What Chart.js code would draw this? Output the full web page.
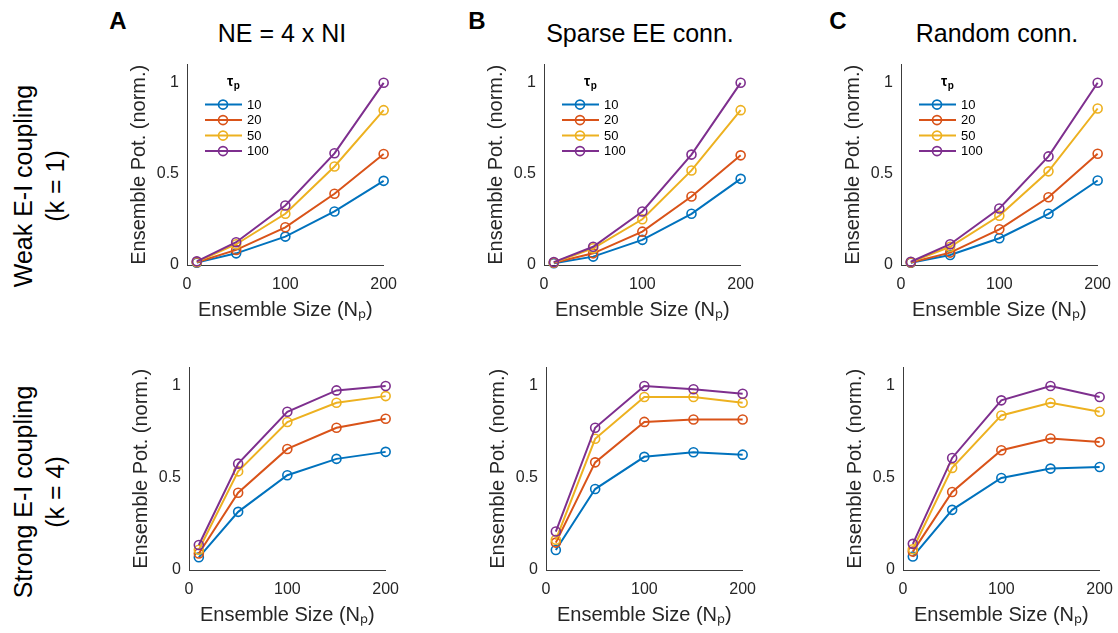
<!DOCTYPE html>
<html><head><meta charset="utf-8">
<script src="https://cdn.jsdelivr.net/npm/chart.js@4.4.1/dist/chart.umd.min.js"></script>
<style>
html,body{margin:0;padding:0;background:#fff;}
#wrap{position:relative;width:1118px;height:633px;overflow:hidden;font-family:"Liberation Sans",Arial,Helvetica,sans-serif;color:#000;}
.lbl{position:absolute;transform:translate(-50%,-50%);white-space:nowrap;line-height:1.15;}
.letter{font-weight:bold;font-size:24px;}
.ctitle{font-size:25px;}
.rlabel{position:absolute;font-size:25px;line-height:32px;text-align:center;white-space:nowrap;transform:translate(-50%,-50%) rotate(-90deg);}
.panel{position:absolute;}
canvas{display:block;}
</style></head>
<body><div id="wrap">
<div class="lbl letter" style="left:118px;top:21px">A</div>
<div class="lbl letter" style="left:477px;top:21px">B</div>
<div class="lbl letter" style="left:838px;top:21px">C</div>
<div class="lbl ctitle" style="left:282px;top:33px">NE = 4 x NI</div>
<div class="lbl ctitle" style="left:640px;top:33px">Sparse EE conn.</div>
<div class="lbl ctitle" style="left:997px;top:33px">Random conn.</div>
<div class="rlabel" style="left:39px;top:186px">Weak E-I coupling<br>(k = 1)</div>
<div class="rlabel" style="left:39px;top:492px">Strong E-I coupling<br>(k = 4)</div>
</div>
<script>
// ---- data ----
const ensembleSizes = [10, 50, 100, 150, 200];
const tauLabels = ['10', '20', '50', '100'];
const xTicks = [0, 100, 200];
const yTicks = [0, 0.5, 1];
const colors = ['#0072BD', '#D95319', '#EDB120', '#7E2F8E'];

// Weak E-I coupling (k = 1)
const weakNE_10  = [0.013, 0.064, 0.156, 0.294, 0.462];
const weakNE_20  = [0.015, 0.083, 0.207, 0.391, 0.609];
const weakNE_50  = [0.017, 0.114, 0.281, 0.541, 0.850];
const weakNE_100 = [0.020, 0.125, 0.327, 0.613, 1.000];

const weakSparse_10  = [0.010, 0.046, 0.138, 0.281, 0.473];
const weakSparse_20  = [0.012, 0.064, 0.183, 0.376, 0.602];
const weakSparse_50  = [0.014, 0.092, 0.251, 0.519, 0.850];
const weakSparse_100 = [0.016, 0.100, 0.294, 0.606, 1.000];

const weakRandom_10  = [0.012, 0.055, 0.147, 0.281, 0.464];
const weakRandom_20  = [0.014, 0.068, 0.196, 0.372, 0.611];
const weakRandom_50  = [0.016, 0.100, 0.270, 0.514, 0.859];
const weakRandom_100 = [0.018, 0.114, 0.310, 0.596, 1.000];

// Strong E-I coupling (k = 4)
const strongNE_10  = [0.069, 0.316, 0.515, 0.604, 0.642];
const strongNE_20  = [0.090, 0.420, 0.658, 0.773, 0.822];
const strongNE_50  = [0.110, 0.536, 0.804, 0.909, 0.945];
const strongNE_100 = [0.136, 0.578, 0.860, 0.976, 1.000];

const strongSparse_10  = [0.109, 0.440, 0.615, 0.640, 0.627];
const strongSparse_20  = [0.149, 0.585, 0.805, 0.818, 0.818];
const strongSparse_50  = [0.164, 0.713, 0.940, 0.940, 0.909];
const strongSparse_100 = [0.209, 0.773, 1.000, 0.982, 0.958];

const strongRandom_10  = [0.073, 0.327, 0.500, 0.551, 0.560];
const strongRandom_20  = [0.100, 0.424, 0.651, 0.715, 0.695];
const strongRandom_50  = [0.113, 0.555, 0.840, 0.909, 0.860];
const strongRandom_100 = [0.142, 0.609, 0.922, 1.000, 0.940];

const xTitle = 'Ensemble Size (N\u209A)';
const yTitle = 'Ensemble Pot. (norm.)';
const legendTitle = '\u03C4';
const legendSub = 'p';

// ---- layout ----
const FAMILY = '"Liberation Sans", Arial, Helvetica, sans-serif';
const panels = [
  {series: [weakNE_10, weakNE_20, weakNE_50, weakNE_100], left: 187, top: 65, h: 200, legend: true},
  {series: [weakSparse_10, weakSparse_20, weakSparse_50, weakSparse_100], left: 544, top: 65, h: 200, legend: true},
  {series: [weakRandom_10, weakRandom_20, weakRandom_50, weakRandom_100], left: 901, top: 65, h: 200, legend: true},
  {series: [strongNE_10, strongNE_20, strongNE_50, strongNE_100], left: 189, top: 368, h: 202, legend: false},
  {series: [strongSparse_10, strongSparse_20, strongSparse_50, strongSparse_100], left: 546, top: 368, h: 202, legend: false},
  {series: [strongRandom_10, strongRandom_20, strongRandom_50, strongRandom_100], left: 903, top: 368, h: 202, legend: false}
];
const PLOT_W = 197, YAXIS_W = 60, XAXIS_H = 57, PAD_T = 10, PAD_R = 18;

const insetLegend = {
  id: 'insetLegend',
  afterDatasetsDraw(chart, args, opts) {
    if (!opts.show) return;
    const {ctx, chartArea} = chart;
    const L = chartArea.left, T = chartArea.top;
    ctx.save();
    ctx.fillStyle = '#000';
    ctx.textAlign = 'left';
    ctx.textBaseline = 'alphabetic';
    ctx.font = 'bold 14px ' + FAMILY;
    const tx = L + 40;
    ctx.fillText(legendTitle, tx, T + 21);
    const w = ctx.measureText(legendTitle).width;
    ctx.font = 'bold 10px ' + FAMILY;
    ctx.fillText(legendSub, tx + w + 0.5, T + 24);
    chart.data.datasets.forEach((ds, i) => {
      const y = T + 40 + i * 15.5;
      ctx.strokeStyle = ds.borderColor;
      ctx.lineWidth = 2;
      ctx.beginPath(); ctx.moveTo(L + 18, y); ctx.lineTo(L + 55, y); ctx.stroke();
      ctx.lineWidth = 1.6;
      ctx.beginPath(); ctx.arc(L + 36, y, 4.5, 0, Math.PI * 2); ctx.stroke();
      ctx.fillStyle = '#000';
      ctx.font = '13px ' + FAMILY;
      ctx.textBaseline = 'middle';
      ctx.fillText(ds.label, L + 60, y + 0.5);
    });
    ctx.restore();
  }
};

function makeConfig(p) {
  const datasets = p.series.map((vals, i) => ({
    label: tauLabels[i],
    data: ensembleSizes.map((x, j) => ({x: x, y: vals[j]})),
    borderColor: colors[i],
    backgroundColor: 'rgba(0,0,0,0)',
    pointBorderColor: colors[i],
    pointBackgroundColor: 'rgba(0,0,0,0)',
    pointRadius: 4.5,
    pointBorderWidth: 1.6,
    borderWidth: 2,
    tension: 0,
    clip: false,
    order: 3 - i
  }));
  return {
    type: 'line',
    data: {datasets},
    options: {
      responsive: false,
      maintainAspectRatio: false,
      animation: false,
      devicePixelRatio: 1,
      layout: {padding: {top: PAD_T, right: PAD_R, bottom: 0, left: 0}},
      plugins: {legend: {display: false}, tooltip: {enabled: false}, insetLegend: {show: p.legend}},
      scales: {
        x: {
          type: 'linear', min: 0, max: 200,
          afterBuildTicks: s => { s.ticks = xTicks.map(v => ({value: v})); },
          afterFit: s => { s.height = XAXIS_H; },
          grid: {display: false, drawTicks: false, tickLength: 0},
          border: {display: true, color: '#3c3c3c', width: 1},
          ticks: {font: {size: 16, family: FAMILY}, color: '#262626', padding: 10, maxRotation: 0, autoSkip: false,
                  callback: v => String(v)},
          title: {display: true, text: xTitle, font: {size: 20, family: FAMILY}, color: '#262626', padding: 0}
        },
        y: {
          type: 'linear', min: 0, max: 1.1,
          afterBuildTicks: s => { s.ticks = yTicks.map(v => ({value: v})); },
          afterFit: s => { s.width = YAXIS_W; },
          grid: {display: false, drawTicks: false, tickLength: 0},
          border: {display: true, color: '#3c3c3c', width: 1},
          ticks: {font: {size: 16, family: FAMILY}, color: '#262626', padding: 8, autoSkip: false,
                  callback: v => String(v)},
          title: {display: true, text: yTitle, font: {size: 20, family: FAMILY}, color: '#262626', padding: 0}
        }
      }
    },
    plugins: [insetLegend]
  };
}

const wrap = document.getElementById('wrap');
panels.forEach(p => {
  const div = document.createElement('div');
  div.className = 'panel';
  wrap.appendChild(div);
  let cw = YAXIS_W + PLOT_W + PAD_R;
  let ch = PAD_T + p.h + XAXIS_H;
  let chart = null, cv = null;
  for (let k = 0; k < 3; k++) {
    if (chart) { chart.destroy(); div.removeChild(cv); }
    cv = document.createElement('canvas');
    cv.width = cw; cv.height = ch;
    div.appendChild(cv);
    chart = new Chart(cv, makeConfig(p));
    const a = chart.chartArea;
    const dw = PLOT_W - (a.right - a.left);
    const dh = p.h - (a.bottom - a.top);
    if (Math.abs(dw) < 0.5 && Math.abs(dh) < 0.5) break;
    cw = Math.round(cw + dw); ch = Math.round(ch + dh);
  }
  const a = chart.chartArea;
  div.style.left = Math.round(p.left - a.left) + 'px';
  div.style.top = Math.round(p.top - a.top) + 'px';
});
</script>
</body></html>
